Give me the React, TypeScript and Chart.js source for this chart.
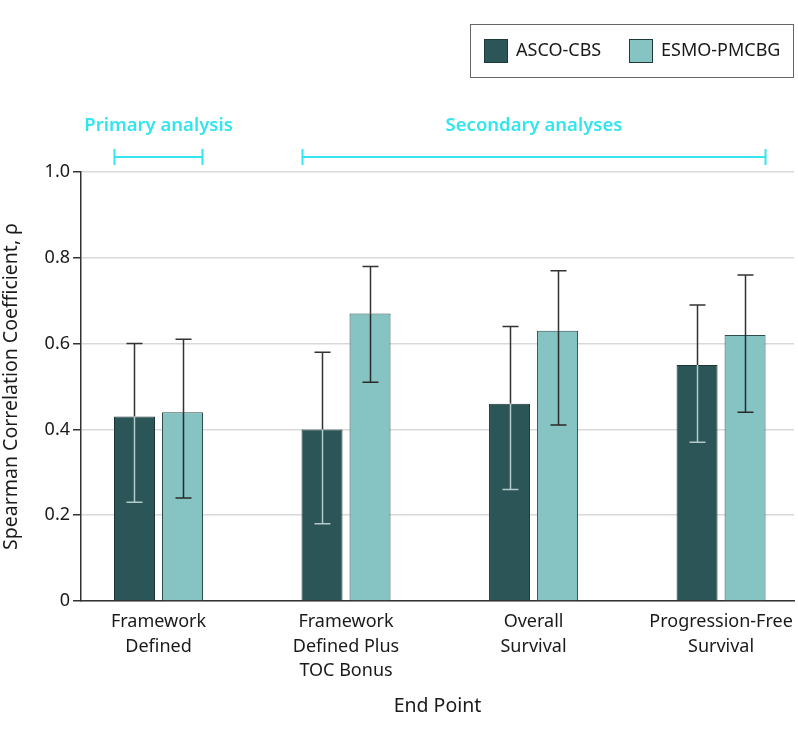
import React, { useEffect, useRef } from 'react';
import { Chart, registerables } from 'chart.js';

Chart.register(...registerables);

const categories: string[][] = [
  ['Framework', 'Defined'],
  ['Framework', 'Defined Plus', 'TOC Bonus'],
  ['Overall', 'Survival'],
  ['Progression-Free', 'Survival'],
];
const positions = [1, 2, 3, 4];
const ascoValues = [0.43, 0.40, 0.46, 0.55];
const ascoLow = [0.23, 0.18, 0.26, 0.37];
const ascoHigh = [0.60, 0.58, 0.64, 0.69];
const esmoValues = [0.44, 0.67, 0.63, 0.62];
const esmoLow = [0.24, 0.51, 0.41, 0.44];
const esmoHigh = [0.61, 0.78, 0.77, 0.76];
const yTicks = [0, 0.2, 0.4, 0.6, 0.8, 1.0];
const seriesLabels = ['ASCO-CBS', 'ESMO-PMCBG'];
const groupLabels = ['Primary analysis', 'Secondary analyses'];
const groupSpans = [[0, 0], [1, 3]];
const xMin = 0.5867;
const xMax = 4.389;

const FONT = "'Noto Sans', sans-serif";
const ASCO_COLOR = '#2b5556';
const ESMO_COLOR = '#86c3c3';
const CYAN = '#34e4ee';
const TEXT = '#1a1a1a';

const lows = [ascoLow, esmoLow];
const highs = [ascoHigh, esmoHigh];

const errorBarPlugin = {
  id: 'errorBars',
  afterDatasetsDraw(chart: any) {
    const ctx = chart.ctx;
    const y = chart.scales.y;
    ctx.save();
    ctx.lineWidth = 1.5;
    chart.data.datasets.forEach((ds: any, di: number) => {
      const meta = chart.getDatasetMeta(di);
      meta.data.forEach((bar: any, i: number) => {
        const x = Math.round(bar.x) + 0.5;
        const yTop = bar.y;
        const yLo = y.getPixelForValue(lows[di][i]);
        const yHi = y.getPixelForValue(highs[di][i]);
        const cap = 8;
        const inside = di === 0 ? '#b3caca' : '#2a2a2a';
        const outside = '#333333';
        ctx.strokeStyle = outside;
        ctx.beginPath();
        ctx.moveTo(x, yTop);
        ctx.lineTo(x, yHi);
        ctx.moveTo(x - cap, yHi);
        ctx.lineTo(x + cap, yHi);
        ctx.stroke();
        ctx.strokeStyle = inside;
        ctx.beginPath();
        ctx.moveTo(x, yTop);
        ctx.lineTo(x, yLo);
        ctx.moveTo(x - cap, yLo);
        ctx.lineTo(x + cap, yLo);
        ctx.stroke();
      });
    });
    ctx.restore();
  },
};

const annotationPlugin = {
  id: 'annotations',
  afterDraw(chart: any) {
    const ctx = chart.ctx;
    const m0 = chart.getDatasetMeta(0);
    const m1 = chart.getDatasetMeta(1);
    ctx.save();
    groupSpans.forEach((span, gi) => {
      const b0 = m0.data[span[0]];
      const b1 = m1.data[span[1]];
      const x0 = Math.round(b0.x - b0.width / 2) + 0.5;
      const x1 = Math.round(b1.x + b1.width / 2) - 0.5;
      const yb = 157;
      ctx.strokeStyle = CYAN;
      ctx.lineWidth = 2;
      ctx.beginPath();
      ctx.moveTo(x0, yb);
      ctx.lineTo(x1, yb);
      ctx.moveTo(x0, yb - 8);
      ctx.lineTo(x0, yb + 8);
      ctx.moveTo(x1, yb - 8);
      ctx.lineTo(x1, yb + 8);
      ctx.stroke();
      ctx.fillStyle = CYAN;
      ctx.font = `600 18.5px ${FONT}`;
      ctx.textAlign = 'center';
      ctx.textBaseline = 'middle';
      ctx.fillText(groupLabels[gi], (x0 + x1) / 2, 126);
    });

    ctx.strokeStyle = '#666666';
    ctx.lineWidth = 1;
    ctx.strokeRect(470.5, 24.5, 323, 53);
    const items = [
      { sx: 484, tx: 516 },
      { sx: 629, tx: 661 },
    ];
    chart.data.datasets.forEach((ds: any, i: number) => {
      const it = items[i];
      ctx.fillStyle = ds.backgroundColor;
      ctx.fillRect(it.sx, 39, 24, 24);
      ctx.strokeStyle = '#1e3b3b';
      ctx.strokeRect(it.sx + 0.5, 39.5, 23, 23);
      ctx.fillStyle = TEXT;
      ctx.font = `18px ${FONT}`;
      ctx.textAlign = 'left';
      ctx.textBaseline = 'middle';
      ctx.fillText(ds.label, it.tx, 51);
    });
    ctx.restore();
  },
};

export default function App() {
  const ref = useRef<HTMLCanvasElement | null>(null);
  useEffect(() => {
    if (!ref.current) return;
    const chart = new Chart(ref.current, {
      type: 'bar',
      data: {
        datasets: [
          {
            label: seriesLabels[0],
            data: positions.map((p, i) => ({ x: p, y: ascoValues[i] })),
            backgroundColor: ASCO_COLOR,
            borderColor: '#1a3434',
            borderWidth: 1,
            barPercentage: 0.854,
            categoryPercentage: 0.512,
          },
          {
            label: seriesLabels[1],
            data: positions.map((p, i) => ({ x: p, y: esmoValues[i] })),
            backgroundColor: ESMO_COLOR,
            borderColor: '#2c4d4d',
            borderWidth: 1,
            barPercentage: 0.854,
            categoryPercentage: 0.512,
          },
        ],
      },
      options: {
        animation: false,
        responsive: false,
        devicePixelRatio: 1,
        layout: { padding: { left: 0, right: 4, top: 172, bottom: 0 } },
        plugins: {
          legend: { display: false },
          tooltip: { enabled: false },
          title: { display: false },
        },
        scales: {
          x: {
            type: 'linear',
            bounds: 'data',
            offset: false,
            min: xMin,
            max: xMax,
            grid: { display: false, drawTicks: false },
            border: { display: true, color: '#333333', width: 1.5 },
            afterBuildTicks: (scale: any) => {
              scale.ticks = positions.map((p) => ({ value: p }));
              scale.min = xMin;
              scale.max = xMax;
            },
            afterFit: (scale: any) => {
              scale.height = 134;
              scale.paddingLeft = 0;
              scale.paddingRight = 0;
            },
            ticks: {
              autoSkip: false,
              maxRotation: 0,
              padding: 9,
              color: TEXT,
              font: { family: FONT, size: 18, lineHeight: 1.36 },
              callback: (v: any) => {
                const idx = positions.indexOf(Number(v));
                return idx >= 0 ? categories[idx] : '';
              },
            },
            title: {
              display: true,
              text: 'End Point',
              color: TEXT,
              font: { family: FONT, size: 19.5 },
              padding: { top: 4, bottom: 17 },
            },
          },
          y: {
            min: 0,
            max: 1,
            afterBuildTicks: (scale: any) => {
              scale.ticks = yTicks.map((v) => ({ value: v }));
            },
            afterFit: (scale: any) => {
              scale.width = 81;
            },
            grid: {
              color: '#d9d9d9',
              lineWidth: 1.5,
              tickColor: '#333333',
              tickLength: 8,
            },
            border: { display: true, color: '#333333', width: 1.5 },
            ticks: {
              padding: 3,
              color: TEXT,
              font: { family: FONT, size: 18 },
              callback: (v: any) => (Number(v) === 0 ? '0' : Number(v).toFixed(1)),
            },
            title: {
              display: true,
              text: 'Spearman Correlation Coefficient, ρ',
              color: TEXT,
              font: { family: FONT, size: 19.5 },
              padding: { top: 0, bottom: 4 },
            },
          },
        },
      },
      plugins: [errorBarPlugin, annotationPlugin],
    } as any);
    return () => chart.destroy();
  }, []);
  return (
    <div style={{ position: 'fixed', left: 0, top: 0, width: 798, height: 735, background: '#fff' }}>
      <canvas ref={ref} width={798} height={735} style={{ display: 'block', width: 798, height: 735 }} />
    </div>
  );
}
